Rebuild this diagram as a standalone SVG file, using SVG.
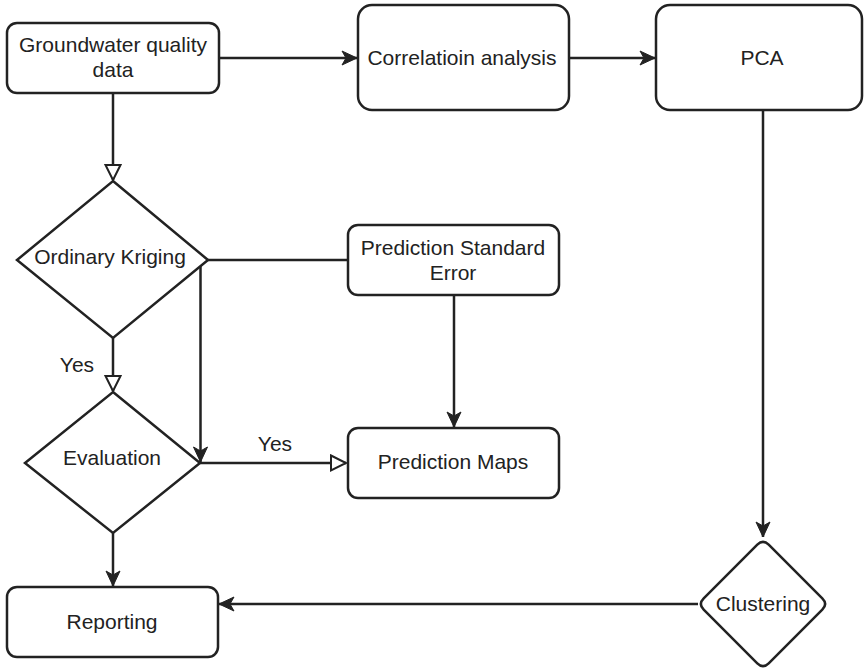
<svg xmlns="http://www.w3.org/2000/svg" width="865" height="671" viewBox="0 0 865 671">
  <style>
    .shape { fill: #ffffff; stroke: #222222; stroke-width: 2.5; }
    .edge { fill: none; stroke: #222222; stroke-width: 2.5; }
    .label { font-family: "Liberation Sans", Arial, Helvetica, sans-serif; font-size: 21px; fill: #222222; text-anchor: middle; }
  </style>
  <defs>
    <!-- filled concave arrowhead -->
    <marker id="arrow-filled" markerUnits="userSpaceOnUse" markerWidth="18" markerHeight="18" refX="16" refY="8" orient="auto">
      <path d="M1,1 L16,8 L1,15 L5,8 Z" fill="#222222" stroke="#222222" stroke-width="1" stroke-linejoin="miter"/>
    </marker>
    <!-- hollow triangle arrowhead -->
    <marker id="arrow-open" markerUnits="userSpaceOnUse" markerWidth="20" markerHeight="20" refX="17" refY="9" orient="auto">
      <path d="M2,1.5 L17,9 L2,16.5 Z" fill="#ffffff" stroke="#222222" stroke-width="2"/>
    </marker>
  </defs>

  <rect width="865" height="671" fill="#ffffff"/>

  <g id="connectors">
    <path class="edge" d="M219,58 L357,58" marker-end="url(#arrow-filled)"/>
    <path class="edge" d="M569,58 L655,58" marker-end="url(#arrow-filled)"/>
    <path class="edge" d="M763,110 L763,537" marker-end="url(#arrow-filled)"/>
    <path class="edge" d="M698,604 L219,604" marker-end="url(#arrow-filled)"/>
    <path class="edge" d="M113,533 L113,586" marker-end="url(#arrow-filled)"/>
    <path class="edge" d="M113,93 L113,180" marker-end="url(#arrow-open)"/>
    <path class="edge" d="M113,338 L113,391" marker-end="url(#arrow-open)"/>
    <path class="edge" d="M208,260 L347,260"/>
    <path class="edge" d="M208,260 L204,260 Q200.5,260 200.5,264 L200.5,462" marker-end="url(#arrow-filled)"/>
    <path class="edge" d="M200,463 L346,463" marker-end="url(#arrow-open)"/>
    <path class="edge" d="M454,295 L454,427" marker-end="url(#arrow-filled)"/>
    <text class="label" x="77" y="372">Yes</text>
    <text class="label" x="275" y="451">Yes</text>
  </g>

  <g id="groundwater-data">
    <rect class="shape" x="7" y="23" width="212" height="70" rx="10" ry="10"/>
    <text class="label" x="113" y="52">Groundwater quality</text>
    <text class="label" x="113" y="77">data</text>
  </g>

  <g id="correlation-analysis">
    <rect class="shape" x="358" y="5" width="211" height="105" rx="14" ry="14"/>
    <text class="label" x="462" y="65">Correlatioin analysis</text>
  </g>

  <g id="pca">
    <rect class="shape" x="656" y="5" width="206" height="105" rx="14" ry="14"/>
    <text class="label" x="762" y="65">PCA</text>
  </g>

  <g id="ordinary-kriging">
    <polygon class="shape" points="113,181 208,260 113,338 17,260" stroke-linejoin="miter"/>
    <text class="label" x="110" y="264">Ordinary Kriging</text>
  </g>

  <g id="prediction-standard-error">
    <rect class="shape" x="348" y="225" width="211" height="70" rx="10" ry="10"/>
    <text class="label" x="453" y="255">Prediction Standard</text>
    <text class="label" x="453" y="280">Error</text>
  </g>

  <g id="evaluation">
    <polygon class="shape" points="113,392 200,463 113,533 25,463"/>
    <text class="label" x="112" y="465">Evaluation</text>
  </g>

  <g id="prediction-maps">
    <rect class="shape" x="348" y="428" width="211" height="70" rx="10" ry="10"/>
    <text class="label" x="453" y="469">Prediction Maps</text>
  </g>

  <g id="reporting">
    <rect class="shape" x="7" y="587" width="211" height="70" rx="10" ry="10"/>
    <text class="label" x="112" y="629">Reporting</text>
  </g>

  <g id="clustering">
    <path class="shape" d="M757.3,544.7 Q763,539 768.7,544.7 L822.3,598.3 Q828,604 822.3,609.7 L768.7,663.3 Q763,669 757.3,663.3 L703.7,609.7 Q698,604 703.7,598.3 Z"/>
    <text class="label" x="763" y="611">Clustering</text>
  </g>
</svg>
